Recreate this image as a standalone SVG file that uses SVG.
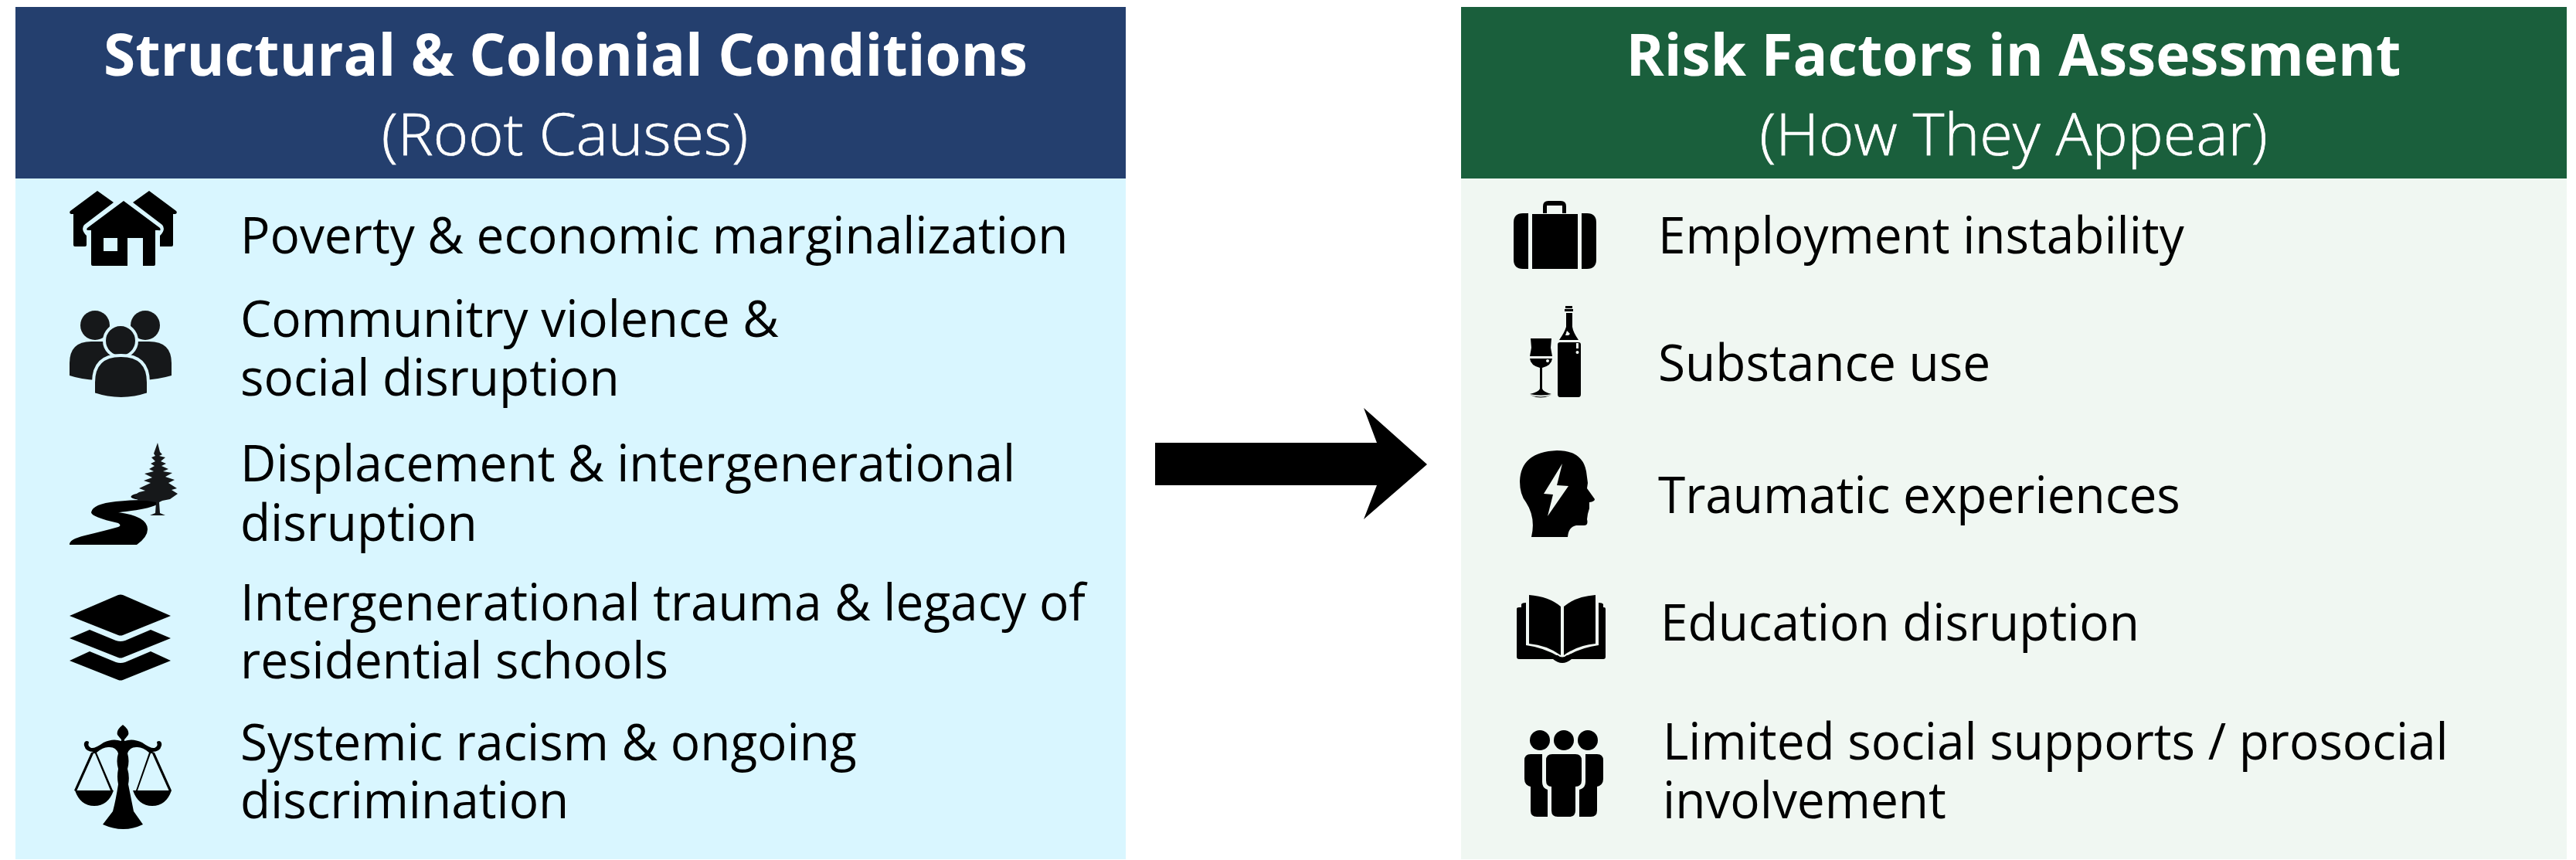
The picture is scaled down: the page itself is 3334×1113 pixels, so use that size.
<svg xmlns="http://www.w3.org/2000/svg" width="3334" height="1113" viewBox="0 0 3334 1113">
<style>
text{font-family:"Open Sans","Noto Sans","DejaVu Sans",sans-serif}
.h{font-size:75px;font-weight:700;fill:#fff;text-anchor:middle}
.s{font-size:75px;font-weight:300;fill:#fff;stroke:#fff;stroke-width:.7;text-anchor:middle}
.t{font-size:66px;fill:#000}
.k{fill:#000}
.d{fill:#16181a}
.g{fill:#f0f7f2}
</style>
<rect width="3334" height="1113" fill="#fff"/>
<g id="left-panel">
<rect x="20" y="231" width="1437" height="881" fill="#d9f6ff"/>
<rect x="20" y="9" width="1437" height="222" fill="#243f6e"/>
<text class="h" transform="translate(732 98) scale(.996 1)">Structural &amp; Colonial Conditions</text>
<text class="s" transform="translate(731 201) scale(1.033 1)">(Root Causes)</text>
</g>
<g id="right-panel">
<rect x="1891" y="231" width="1431" height="881" fill="#f0f7f2"/>
<rect x="1891" y="9" width="1431" height="222" fill="#1a5f3c"/>
<text class="h" transform="translate(2606 98) scale(.996 1)">Risk Factors in Assessment</text>
<text class="s" transform="translate(2606 201) scale(1.035 1)">(How They Appear)</text>
</g>
<g id="item-poverty">
<path class="k" fill-rule="evenodd" d="M160 260L207 295Q209 299 205 298L201 298V342Q201 344 199 344H185V308H165V344H120Q118 344 118 342V298L114 298Q111 298 113 295ZM134 308V325H152V308Z"/>
<path class="k" d="M126 247L147 262L109 291Q104 297 112 305V317Q112 319 110 319H97Q95 319 95 317V277H92Q89 276 91 273ZM193 247L172 262L210 291Q215 297 207 305V319H222Q224 319 224 317V277H227Q230 276 228 273Z"/>
<text class="t" transform="translate(311 328) scale(.969 1)">Poverty &amp; economic marginalization</text>
</g>
<g id="item-community">
<circle class="d" cx="123" cy="421" r="19"/><circle class="d" cx="188" cy="421" r="19"/>
<path class="d" d="M90 486V470Q90 442 118 442H193Q222 442 222 470V486Q205 491 185 492H125Q105 491 90 486Z"/>
<circle class="d" cx="156" cy="441" r="21" stroke="#d9f6ff" stroke-width="4"/>
<path class="d" stroke="#d9f6ff" stroke-width="4" d="M121 510V495Q121 460 156 460H157Q192 460 192 495V510Q157 522 121 510Z"/>
<text class="t" transform="translate(311 436) scale(.969 1)">Communitry violence &amp;</text>
<text class="t" transform="translate(311 512) scale(.969 1)">social disruption</text>
</g>
<g id="item-displacement">
<path class="k" d="M90 705Q89 698 110 693Q135 687 153 682Q158 680 153 677Q118 669 118 663Q120 652 150 649Q170 647 183 647Q165 645 171 641Q180 636 200 640L205 652Q195 658 170 661Q155 663 153 663Q191 668 191 685Q191 695 177 705Z"/>
<path class="d" d="M204 573L207 585L210 588L206 590L214 592L208 597L215 600L209 603L218 607L211 610L223 612L214 617L226 621L218 625L229 632L222 634L230 639L220 646L210 648L206 650L207 664L214 667H194L201 664L202 650L190 648L180 648L172 642L180 637L188 635L180 632L195 625L186 622L197 618L187 613L199 610L193 607L200 603L195 600L201 597L196 592L201 590L199 587Z"/>
<text class="t" transform="translate(311 623) scale(.969 1)">Displacement &amp; intergenerational</text>
<text class="t" transform="translate(311 700) scale(.969 1)">disruption</text>
</g>
<g id="item-trauma">
<path class="k" d="M90 797L153 770Q156 769 159 770L221 797L159 822Q156 823 153 822Z"/>
<path class="k" d="M90 826L116 815L150 829Q156 831 162 829L195 815L221 826L159 851Q156 852 153 851Z"/>
<path class="k" d="M90 855L116 843L150 857Q156 859 162 857L195 843L221 855L159 880Q156 881 153 880Z"/>
<text class="t" transform="translate(311 803) scale(.969 1)">Intergenerational trauma &amp; legacy of</text>
<text class="t" transform="translate(311 878) scale(.969 1)">residential schools</text>
</g>
<g id="item-racism">
<path class="k" d="M159 938Q168 945 166 951Q163 955 161 957V959Q172 955 184 961Q195 969 200 968Q205 966 203 961Q203 959 206 959Q210 960 209 965Q207 973 197 973L200 974L222 1023L219 1024L197 975L195 975L178 1023H222Q215 1043 197 1043Q179 1043 172 1023H176L193 974Q185 967 178 967Q168 966 165 975Q168 985 165 995Q168 1005 166 1015Q170 1035 173 1050L185 1067Q160 1079 133 1067L146 1050Q150 1035 153 1015Q151 1005 153 995Q150 985 153 975Q150 966 140 967Q133 967 125 974L146 1023H147Q140 1043 122 1043Q104 1043 97 1023H143L123 975L121 975L99 1024L96 1023L118 974L121 973Q111 973 109 965Q108 960 112 959Q115 959 115 961Q113 966 118 968Q123 969 134 961Q146 955 157 959V957Q155 955 152 951Q150 945 159 938Z"/>
<text class="t" transform="translate(311 984) scale(.969 1)">Systemic racism &amp; ongoing</text>
<text class="t" transform="translate(311 1059) scale(.969 1)">discrimination</text>
</g>
<g id="connectors">
<path class="k" d="M1495 573H1782L1765 528L1847 601L1765 672L1782 628H1495Z"/>
</g>
<g id="item-employment">
<path class="k" fill-rule="evenodd" d="M1997 276V267Q1997 260 2004 260H2020Q2027 260 2027 267V276ZM2002 276H2022V266H2002Z"/>
<path class="k" d="M1978 276V348H1971Q1959 348 1959 336V288Q1959 276 1971 276ZM1983 277H2042V348H1983ZM2047 276H2054Q2066 276 2066 288V336Q2066 348 2054 348H2047Z"/>
<text class="t" transform="translate(2146 328) scale(.969 1)">Employment instability</text>
</g>
<g id="item-substance">
<path class="k" d="M2026 396H2035V399H2026ZM2025 400H2036V403H2025ZM2027 405H2035V423Q2036 430 2043 440H2018Q2025 430 2027 423ZM2016 446Q2016 443 2019 443H2043Q2046 443 2046 446V510Q2046 514 2043 514H2019Q2016 514 2016 510Z"/>
<path class="g" d="M2028 428L2032 432L2030 434H2026ZM2040 444H2043V451H2040Z"/>
<circle class="g" cx="2041.500" cy="456" r="2"/>
<path class="k" d="M1981 438H2008L2007 450L2009 461H1980L1982 450ZM1980 464H2009Q2008 473 1996 476V503Q1997 507 2008 510Q1995 513 1980 510Q1992 507 1993 503V476Q1981 473 1980 464ZM1980 511Q1994 516 2008 511Q1994 518 1980 511Z"/>
<circle class="g" cx="2003" cy="467" r="2"/>
<text class="t" transform="translate(2146 493) scale(.969 1)">Substance use</text>
</g>
<g id="item-traumatic">
<path class="k" d="M2015 583Q2048 583 2053 610L2055 625L2054 632L2064 646Q2064 649 2057 650L2057 658L2055 665L2054 672Q2056 680 2050 680H2040Q2030 682 2029 695H1982Q1988 670 1975 650Q1967 640 1967 623Q1968 585 2015 583Z"/>
<path class="g" d="M2022 600L2015 628L2030 629L2003 668L2010 640L1998 639Z"/>
<text class="t" transform="translate(2146 664) scale(.969 1)">Traumatic experiences</text>
</g>
<g id="item-education">
<path class="k" d="M1979 770Q2005 772 2020 785V848Q2002 835 1979 833ZM2065 770Q2039 772 2024 785V848Q2042 835 2065 833Z"/>
<path class="k" d="M1975 780V835Q1998 838 2018 850H1969V782Q1970 780 1975 780ZM2069 780V835Q2046 838 2026 850H2075V782Q2074 780 2069 780Z"/>
<path class="k" d="M1966 786H1970V846Q1970 848 1972 848H2016Q2022 853 2028 848H2072Q2074 848 2074 846V786H2076Q2078 786 2078 788V850Q2078 853 2075 853H2034Q2022 863 2010 853H1966Q1963 853 1963 850V788Q1963 786 1966 786Z"/>
<text class="t" transform="translate(2149 829) scale(.969 1)">Education disruption</text>
</g>
<g id="item-supports">
<circle class="k" cx="1993" cy="958" r="13"/><circle class="k" cx="2024" cy="958" r="13"/><circle class="k" cx="2055" cy="958" r="13"/>
<path class="k" d="M2009 976H2039Q2047 976 2047 984V1010Q2047 1018 2039 1018V1049Q2039 1057 2031 1057H2016Q2008 1057 2008 1049V1018Q2001 1018 2001 1010V984Q2001 976 2009 976Z"/>
<path class="k" d="M1981 976H1996V1012Q1996 1020 2003 1022V1057H1989Q1981 1057 1981 1049V1018Q1973 1016 1973 1008V984Q1973 976 1981 976Z"/>
<path class="k" d="M2067 976H2052V1012Q2052 1020 2044 1022V1057H2059Q2067 1057 2067 1049V1018Q2075 1016 2075 1008V984Q2075 976 2067 976Z"/>
<text class="t" transform="translate(2152 983) scale(.969 1)">Limited social supports / prosocial</text>
<text class="t" transform="translate(2152 1059) scale(.969 1)">involvement</text>
</g>
</svg>
